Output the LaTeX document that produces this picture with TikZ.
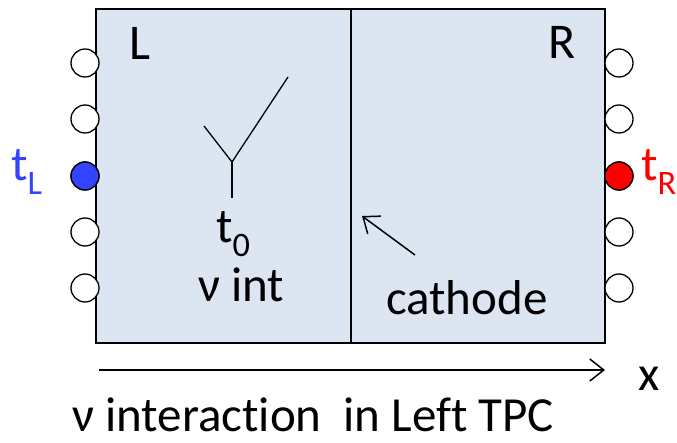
\documentclass[tikz,border=0pt]{standalone}
\usepackage{fontspec}
\setmainfont{Carlito}[Ligatures=NoCommon]
\usetikzlibrary{positioning, arrows.meta}

\definecolor{tpcfill}{HTML}{DCE6F2}
\definecolor{tlblue}{HTML}{3344FF}
\definecolor{trred}{HTML}{FF0000}

\tikzset{
	pmt/.style={circle, draw, line width=1.3pt, minimum size=28pt, inner sep=0pt, fill=white},
	big/.style={inner sep=0pt, font=\fontsize{49}{52}\selectfont},
	barb/.style={-{Straight Barb[length=14pt, width=22pt, line width=1.5pt]}, line width=1.5pt}
}

\begin{document}
\begin{tikzpicture}[x=1pt, y=-1pt]
	\useasboundingbox (0,0) rectangle (677,443);
	% the two TPC halves
	\draw[fill=tpcfill, line width=1.5pt] (96,9) rectangle (605,343);
	\draw[line width=1.3pt] (351,9) -- (351,343);
	% photomultipliers
	\foreach \i/\yy in {1/63, 2/119, 3/176, 4/232, 5/288} {
		\node[pmt] (pl\i) at (85,\yy) {};
		\node[pmt] (pr\i) at (619,\yy) {};
	}
	\node[pmt, fill=tlblue] at (pl3) {};
	\node[pmt, fill=trred] at (pr3) {};
	\node[big, text=tlblue, anchor=base west] (tl) at (11,181) {t\textsubscript{L}};
	\node[big, text=trred, anchor=base west] (tr) at (641,181) {t\textsubscript{R}};
	% labels of the halves
	\node[big, font=\fontsize{50}{54}\selectfont, anchor=base west] (hl) at (129,60) {L};
	\node[big, font=\fontsize{50}{54}\selectfont, anchor=base west] (hr) at (548,59) {R};
	% interaction vertex
	\coordinate (vtx) at (232,162);
	\coordinate (arml) at (204,126);
	\coordinate (armr) at (288,77);
	\coordinate (stem) at (232,198);
	\draw[line width=1.3pt] (arml) -- (vtx) -- (armr);
	\draw[line width=1.3pt] (vtx) -- (stem);
	\node[big, anchor=base west] (t0) at (216,243) {t\textsubscript{0}};
	\node[big, anchor=base west] (nuint) at (198,302) {ν int};
	% cathode
	\node[big, anchor=base west] (cath) at (386,315) {cathode};
	\coordinate (ctail) at (415,255);
	\coordinate (ctip) at (362,216);
	\draw[barb] (ctail) -- (ctip);
	% drift axis
	\coordinate (xa) at (99,370);
	\coordinate (xb) at (605,370);
	\draw[barb] (xa) -- (xb);
	\node[big, anchor=base west] (xlab) at (638,390) {x};
	\node[big, anchor=base west] (cap) at (72,431) {ν interaction\ \ in Left TPC};
\end{tikzpicture}
\end{document}
